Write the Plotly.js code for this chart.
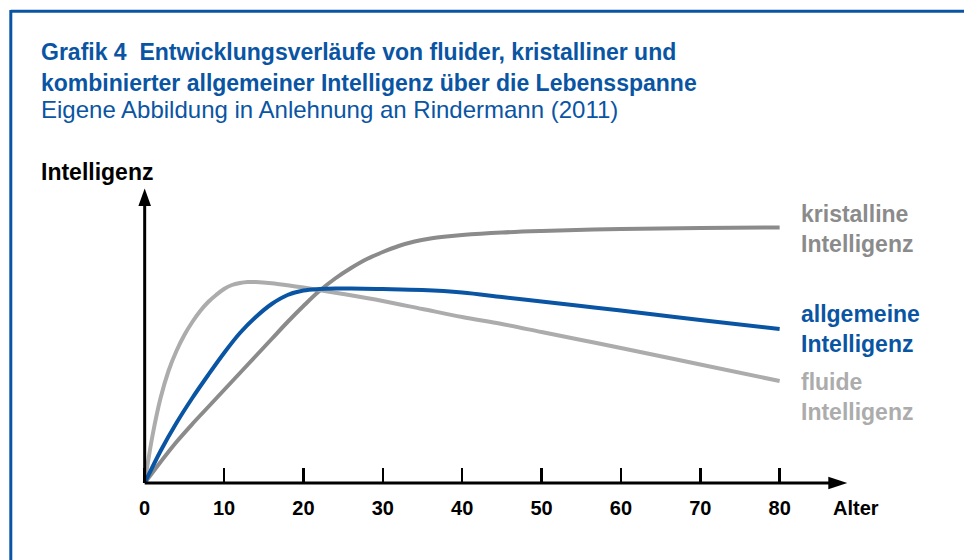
<!DOCTYPE html>
<html>
<head>
<meta charset="utf-8">
<script src="https://cdn.plot.ly/plotly-3.0.1.min.js"></script>
<style>html,body{margin:0;padding:0;background:#fff;}#chart{width:964px;height:560px;}</style>
</head>
<body>
<div id="chart"></div>
<script>
// ---- data ----
const agesFluid = [0, 1, 2, 3, 4, 5, 6, 7, 8, 9, 10, 11, 12, 13, 14, 16, 18, 20, 25, 30, 35, 40, 45, 50, 55, 60, 70, 80];
const fluid     = [0, 48, 85, 112, 132, 148, 161, 172, 181, 188, 194, 198, 200, 201, 201, 199.8, 197.8, 195.5, 189, 182, 174, 166, 159, 151, 143, 135, 118.5, 102];

const agesGeneral = [0, 2, 4, 6, 8, 10, 12, 14, 16, 18, 20, 22, 24, 26, 30, 35, 40, 45, 50, 55, 60, 70, 80];
const general     = [0, 32, 60, 85, 108, 130, 150, 166, 179, 188, 192.5, 194, 194.5, 194.5, 194, 193, 190.5, 186, 181.5, 177, 172.5, 163, 154];

const agesCryst = [0, 2, 4, 6, 8, 10, 12, 14, 16, 18, 20, 22, 24, 26, 28, 30, 32, 34, 36, 38, 40, 45, 50, 60, 70, 80];
const cryst     = [0, 21, 41, 59, 76, 93, 110, 127, 144, 161, 177, 192, 204.5, 215, 224, 231, 237, 241.5, 244.5, 246.5, 248, 250.5, 252, 254, 255, 255.5];

const tickVals = [0, 10, 20, 30, 40, 50, 60, 70, 80];
const tickText = ['0', '10', '20', '30', '40', '50', '60', '70', '80'];

const seriesLabels = ['kristalline<br>Intelligenz', 'allgemeine<br>Intelligenz', 'fluide<br>Intelligenz'];
const titleLine1 = 'Grafik 4  Entwicklungsverläufe von fluider, kristalliner und';
const titleLine2 = 'kombinierter allgemeiner Intelligenz über die Lebensspanne';
const subtitle = 'Eigene Abbildung in Anlehnung an Rindermann (2011)';
const yTitle = 'Intelligenz';
const xTitle = 'Alter';

// ---- styling ----
const BLUE = '#0a55a3';
const DARKGREY = '#8b8b8b';
const LIGHTGREY = '#acacac';
const FONT = 'Liberation Sans, Arial, Helvetica, sans-serif';

const L = 105, R = 105, T = 188, B = 57, W = 964, H = 560;
const XMIN = -5, XMAX = 90, YMIN = -20, YMAX = 295;
const pxPerX = (W - L - R) / (XMAX - XMIN);
const X0 = L - XMIN * pxPerX;      // pixel of x=0
const Y0 = T + YMAX;               // pixel of y=0 (1 unit = 1px)
const dx = px => (px - X0) / pxPerX;
const dy = py => Y0 - py;
const ppx = px => (px - L) / (W - L - R);
const ppy = py => (H - B - py) / (H - T - B);

const traces = [
  {x: agesCryst, y: cryst, mode: 'lines', line: {color: DARKGREY, width: 4, shape: 'spline'}, hoverinfo: 'skip'},
  {x: agesFluid, y: fluid, mode: 'lines', line: {color: LIGHTGREY, width: 4, shape: 'spline'}, hoverinfo: 'skip'},
  {x: agesGeneral, y: general, mode: 'lines', line: {color: BLUE, width: 4, shape: 'spline'}, hoverinfo: 'skip'}
];

const axTop = dy(206), tipY = dy(188.5), halfW = 6.3 / pxPerX;
const axRight = dx(828.3), tipX = dx(847.3), halfH = 6.2;

const shapes = [
  // border
  {type: 'line', xref: 'paper', yref: 'paper', x0: ppx(10.8), x1: ppx(970), y0: ppy(11.3), y1: ppy(11.3), line: {color: BLUE, width: 3}},
  {type: 'line', xref: 'paper', yref: 'paper', x0: ppx(10.8), x1: ppx(10.8), y0: ppy(10), y1: ppy(570), line: {color: BLUE, width: 3}},
  // axes
  {type: 'line', xref: 'x', yref: 'y', x0: 0, x1: 0, y0: 0, y1: axTop + 1, line: {color: '#000', width: 3}},
  {type: 'path', xref: 'x', yref: 'y', path: `M ${-halfW},${axTop} L 0,${tipY} L ${halfW},${axTop} Z`, fillcolor: '#000', line: {width: 0}},
  {type: 'line', xref: 'x', yref: 'y', x0: 0, x1: axRight + 0.1, y0: 0, y1: 0, line: {color: '#000', width: 3}},
  {type: 'path', xref: 'x', yref: 'y', path: `M ${axRight},${halfH} L ${tipX},0 L ${axRight},${-halfH} Z`, fillcolor: '#000', line: {width: 0}}
];

const labelColors = [DARKGREY, BLUE, LIGHTGREY];
const labelY = [229, 329, 396.5];
const ann = (text, px, py, size, color, xanchor) => ({
  text: text, x: ppx(px), y: ppy(py), xref: 'paper', yref: 'paper',
  xanchor: xanchor || 'left', yanchor: 'middle', align: 'left', showarrow: false,
  font: {family: FONT, size: size, color: color}
});
const annotations = [
  ann('<b>' + titleLine1 + '</b>', 39, 52, 23, BLUE),
  ann('<b>' + titleLine2 + '</b>', 39, 83, 23, BLUE),
  ann(subtitle, 39, 109, 24, BLUE),
  ann('<b>' + yTitle + '</b>', 39, 171.5, 23, '#000'),
  ann('<b>' + xTitle + '</b>', 855.5, 508, 20, '#000', 'center')
];
seriesLabels.forEach((t, i) => annotations.push(ann('<b>' + t + '</b>', 798.5, labelY[i], 23, labelColors[i])));

const layout = {
  width: W, height: H,
  margin: {l: L, r: R, t: T, b: B, pad: 0},
  paper_bgcolor: '#fff', plot_bgcolor: '#fff',
  showlegend: false,
  xaxis: {
    range: [XMIN, XMAX], anchor: 'free', position: (0 - YMIN) / (YMAX - YMIN),
    showgrid: false, zeroline: false, showline: false,
    tickmode: 'array', tickvals: tickVals, ticktext: tickText,
    ticks: 'inside', ticklen: 15, tickwidth: 2.5, tickcolor: '#000',
    ticklabelstandoff: 11,
    tickfont: {family: FONT, size: 20, color: '#000', weight: 'bold'},
    fixedrange: true
  },
  yaxis: {range: [YMIN, YMAX], visible: false, showgrid: false, zeroline: false, fixedrange: true},
  shapes: shapes,
  annotations: annotations
};

Plotly.newPlot('chart', traces, layout, {staticPlot: true, displayModeBar: false});
</script>
</body>
</html>
